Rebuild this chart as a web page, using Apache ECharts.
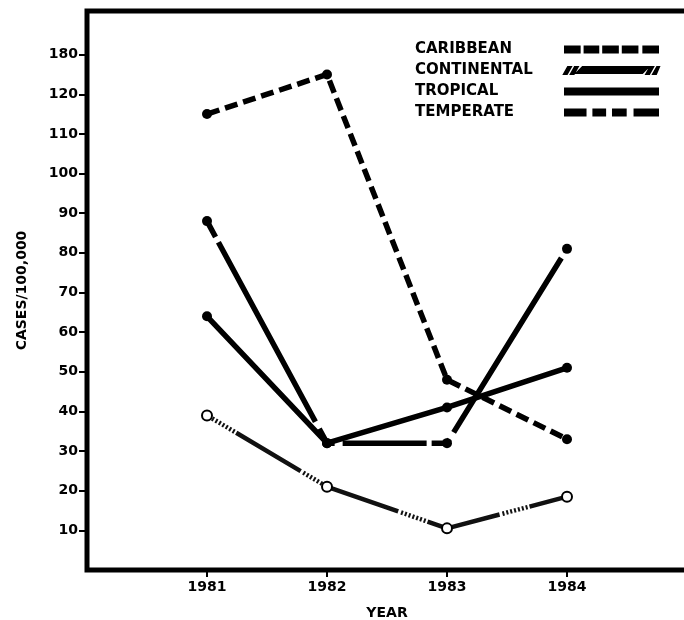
<!DOCTYPE html>
<html>
<head>
<meta charset="utf-8">
<script src="https://cdn.jsdelivr.net/npm/echarts@6/dist/echarts.min.js"></script>
<style>html,body{margin:0;padding:0;background:#fff;}#c{width:684px;height:620px;}</style>
</head>
<body>
<div id="c"></div>
<script>
var years = [1981, 1982, 1983, 1984];
var caribbean = [115, 125, 48, 33];
var continental = [39, 21, 10.5, 18.5];
var tropical = [64, 32, 41, 51];
var temperate = [88, 32, 32, 81];
var yTickValues = [10, 20, 30, 40, 50, 60, 70, 80, 90, 100, 110, 120, 130];
var yTickLabels = ['10', '20', '30', '40', '50', '60', '70', '80', '90', '100', '110', '120', '180'];
var seriesNames = ['CARIBBEAN', 'CONTINENTAL', 'TROPICAL', 'TEMPERATE'];

function pairs(vals) { return years.map(function (y, i) { return [y, vals[i]]; }); }

var FONT = 'DejaVu Sans';
var chart = echarts.init(document.getElementById('c'), null, { renderer: 'canvas' });

var icons = [
  'path://M0,0h17v8h-17z M20,0h16v8h-16z M39,0h17v8h-17z M59,0h17v8h-17z M80,0h17v8h-17z',
  'path://M0,8L4,1L7,1L3,8Z M7,8L11,1L14,1L10,8Z M13,7L19,1L86,1L80,7Z M84,8L88,1L91,1L87,8Z M91,8L95,1L97,1L94,8Z',
  'path://M0,0h97v8h-97z',
  'path://M0,0h23v8h-23z M29,0h14v8h-14z M49,0h15v8h-15z M71,0h26v8h-26z'
];

var option = {
  animation: false,
  backgroundColor: '#fff',
  grid: { left: 87, width: 600, top: 11, bottom: 50, outerBoundsMode: 'none', containLabel: false,
    show: true, borderColor: '#000', borderWidth: 5, backgroundColor: 'transparent' },
  legend: {
    orient: 'vertical', right: 19, top: 36, align: 'right',
    itemWidth: 95, itemHeight: 8, itemGap: 4,
    selectedMode: false,
    data: seriesNames.map(function (n, i) { return { name: n, icon: icons[i] }; }),
    formatter: function (n) { return '{a|' + n + '}'; },
    textStyle: {
      color: '#000', fontFamily: FONT, fontWeight: 'bold', fontSize: 15, lineHeight: 17,
      rich: { a: { width: 144, align: 'left', fontFamily: FONT, fontWeight: 'bold', fontSize: 15, lineHeight: 17, color: '#000' } }
    }
  },
  xAxis: {
    type: 'value', min: 1980, max: 1985, interval: 1,
    name: 'YEAR', nameLocation: 'middle', nameGap: 36,
    nameTextStyle: { color: '#000', fontFamily: FONT, fontWeight: 'bold', fontSize: 14 },
    axisLine: { show: false },
    axisTick: { show: true, length: 7, inside: false, lineStyle: { color: '#000', width: 2 }, customValues: years },
    axisLabel: { color: '#000', fontFamily: FONT, fontWeight: 'bold', fontSize: 14, margin: 10, customValues: years,
      formatter: function (v) { return String(v); } },
    splitLine: { show: false }
  },
  yAxis: {
    type: 'value', min: 0, max: 141, interval: 10,
    name: 'CASES/100,000', nameLocation: 'middle', nameGap: 58, nameRotate: 90,
    nameTextStyle: { color: '#000', fontFamily: FONT, fontWeight: 'bold', fontSize: 14 },
    axisLine: { show: false },
    axisTick: { show: true, length: 8, lineStyle: { color: '#000', width: 2 }, customValues: yTickValues },
    axisLabel: { color: '#000', fontFamily: FONT, fontWeight: 'bold', fontSize: 14, margin: 9, customValues: yTickValues,
      formatter: function (v) { var i = yTickValues.indexOf(v); return i >= 0 ? yTickLabels[i] : ''; } },
    splitLine: { show: false }
  },
  series: [
    {
      name: seriesNames[0], type: 'line', data: pairs(caribbean),
      symbol: 'circle', symbolSize: 10, itemStyle: { color: '#000' },
      lineStyle: { color: '#000', width: 5.5, type: [13, 6], cap: 'butt' }, z: 3
    },
    {
      name: seriesNames[1], type: 'line', data: pairs(continental),
      symbol: 'emptyCircle', symbolSize: 10, itemStyle: { color: '#000', borderWidth: 1.5, borderColor: '#000' },
      lineStyle: { color: '#111', width: 4.5, type: [2, 2, 2, 2, 2, 2, 2, 2, 2, 2, 2, 2, 2, 2, 75, 3], dashOffset: -6, cap: 'butt' }, z: 2
    },
    {
      name: seriesNames[2], type: 'line', data: pairs(tropical),
      symbol: 'circle', symbolSize: 10, itemStyle: { color: '#000' },
      lineStyle: { color: '#000', width: 5.5, type: 'solid', cap: 'butt' }, z: 4
    },
    {
      name: seriesNames[3], type: 'line', data: pairs(temperate),
      symbol: 'circle', symbolSize: 10, itemStyle: { color: '#000' },
      lineStyle: { color: '#000', width: 5.5, type: [18, 6, 204, 8, 24, 8, 84, 5, 20, 8, 205, 8, 20], cap: 'butt' }, z: 3
    }
  ]
};
chart.setOption(option);
</script>
</body>
</html>
